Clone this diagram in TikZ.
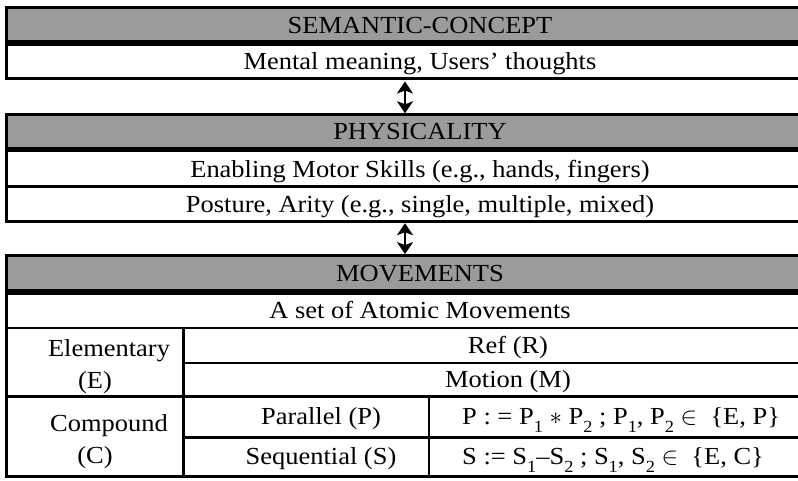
\documentclass[tikz,border=0pt]{standalone}
\usepackage{fontspec}
\setmainfont[FakeStretch=1.08]{Liberation Serif}
\usetikzlibrary{arrows.meta}
\definecolor{headgray}{RGB}{155,155,155}
\newcommand\lowsub[1]{\raisebox{-0.36em}{\fontsize{17}{17}\selectfont #1}}
\begin{document}
\begin{tikzpicture}[x=1pt,y=-1pt,
  rule/.style={line width=2.7pt},
  headrule/.style={line width=5.5pt},
  lbl/.style={font=\fontsize{24.5}{29}\selectfont, inner sep=0pt, anchor=base},
  lblw/.style={lbl, anchor=base west},
  link/.style={{Stealth[length=12pt,width=16pt,inset=3pt]}-{Stealth[length=12pt,width=16pt,inset=3pt]}, line width=1.8pt}]
\clip (0,0) rectangle (798,480);
\def\R{833}
% ---- semantic-concept block
\fill[headgray] (6.5,7.5) rectangle (\R,43);
\draw[headrule] (6.5,43) -- (\R,43);
\draw[rule] (6.5,7.5) rectangle (\R,78.3);
\node[lbl] (sem) at (420,33) {SEMANTIC-CONCEPT};
\node[lbl] (mental) at (420,69) {Mental meaning, Users’ thoughts};
% ---- physicality block
\fill[headgray] (6.5,114.7) rectangle (\R,149.7);
\draw[headrule] (6.5,149.7) -- (\R,149.7);
\draw[rule] (6.5,186.3) -- (\R,186.3);
\draw[rule] (6.5,114.7) rectangle (\R,221.2);
\node[lbl] (phys) at (420,139.5) {PHYSICALITY};
\node[lbl] (motor) at (420,177) {Enabling Motor Skills (e.g., hands, fingers)};
\node[lbl] (posture) at (420,212) {Posture, Arity (e.g., single, multiple, mixed)};
% ---- movements block
\fill[headgray] (6.5,255.5) rectangle (\R,291.8);
\draw[headrule] (6.5,291.8) -- (\R,291.8);
\draw[rule] (6.5,328) -- (\R,328);
\draw[rule] (183.5,363) -- (\R,363);
\draw[rule] (6.5,396.3) -- (\R,396.3);
\draw[rule] (183.5,437.3) -- (\R,437.3);
\draw[rule] (183.5,328) -- (183.5,476.7);
\draw[rule] (429,396.3) -- (429,476.7);
\draw[rule] (6.5,255.5) rectangle (\R,476.7);
\node[lbl] (mov) at (420,281) {MOVEMENTS};
\node[lbl] (atomic) at (420,318.5) {A set of Atomic Movements};
\node[lbl] (elem) at (109,356) {Elementary};
\node[lbl] (elemE) at (95,388) {(E)};
\node[lbl] (comp) at (109,431.5) {Compound};
\node[lbl] (compC) at (95,463) {(C)};
\node[lbl] (ref) at (508,353) {Ref (R)};
\node[lbl] (motion) at (508,387) {Motion (M)};
\node[lbl] (par) at (321,424) {Parallel (P)};
\node[lbl] (seq) at (321,464) {Sequential (S)};
\node[lblw] (pdef) at (462,424) {P : = P\lowsub{1} $\ast$ P\lowsub{2} ; P\lowsub{1}, P\lowsub{2} $\in$ \ \{E, P\}};
\node[lblw] (sdef) at (462,464) {S := S\lowsub{1}–S\lowsub{2} ; S\lowsub{1}, S\lowsub{2} $\in$ \ \{E, C\}};
% ---- two-way links between the blocks
\coordinate (l1a) at (405,81.5);
\coordinate (l1b) at (405,113.3);
\coordinate (l2a) at (405,223.2);
\coordinate (l2b) at (405,254.1);
\draw[link] (l1a) -- (l1b);
\draw[link] (l2a) -- (l2b);
\end{tikzpicture}
\end{document}
